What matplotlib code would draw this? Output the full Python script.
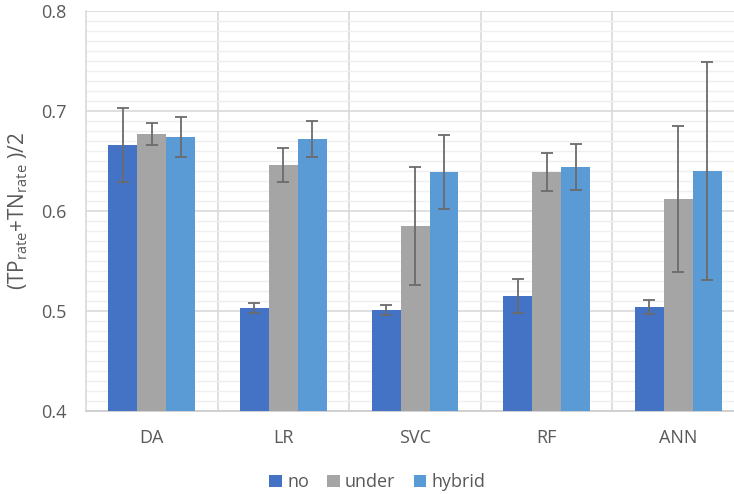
import numpy as np
import matplotlib.pyplot as plt
from matplotlib.ticker import MultipleLocator

models = ['DA', 'LR', 'SVC', 'RF', 'ANN']
sampling = ['no', 'under', 'hybrid']

# mean balanced accuracy per model and sampling strategy
acc_no = [0.666, 0.503, 0.501, 0.515, 0.504]
acc_under = [0.677, 0.646, 0.585, 0.639, 0.612]
acc_hybrid = [0.674, 0.672, 0.639, 0.644, 0.640]

# standard deviations
sd_no = [0.037, 0.005, 0.005, 0.017, 0.007]
sd_under = [0.011, 0.017, 0.059, 0.019, 0.073]
sd_hybrid = [0.020, 0.018, 0.037, 0.023, 0.109]

colors = ['#4472C4', '#A5A5A5', '#5B9BD5']
txt = '#595959'

plt.rcParams['font.family'] = ['Open Sans', 'DejaVu Sans']
plt.rcParams['mathtext.fontset'] = 'custom'
plt.rcParams['mathtext.rm'] = 'Open Sans'

fig = plt.figure(figsize=(7.34, 4.94), dpi=100)
ax = fig.add_axes([0.1172, 0.168, 0.8965, 0.8097])

x = np.arange(len(models))
w = 0.22
for i, (vals, sds) in enumerate(zip([acc_no, acc_under, acc_hybrid],
                                    [sd_no, sd_under, sd_hybrid])):
    pos = x + (i - 1) * w
    ax.bar(pos, vals, w, color=colors[i], label=sampling[i], zorder=3)
    ax.errorbar(pos, vals, yerr=sds, fmt='none', ecolor='#6b6b6b',
                elinewidth=1.3, capsize=4, capthick=1.3, zorder=4)

ax.set_xlim(-0.5, len(models) - 0.5)
ax.set_ylim(0.4, 0.8)
ax.yaxis.set_minor_locator(MultipleLocator(0.01))
ax.set_yticks([0.4, 0.5, 0.6, 0.7, 0.8])
ax.set_yticklabels(['0.4', '0.5', '0.6', '0.7', '0.8'])
ax.set_xticks(x)
ax.set_xticklabels(models)

ax.grid(axis='y', which='major', color='#D9D9D9', lw=1.2, zorder=1)
ax.grid(axis='y', which='minor', color='#EFEFEF', lw=1.0, zorder=0)
for b in np.arange(0.5, len(models) - 0.5, 1.0):
    ax.axvline(b, color='#D9D9D9', lw=1.2, zorder=1)

for s in ['top', 'right']:
    ax.spines[s].set_visible(False)
ax.spines['left'].set_color('#D9D9D9')
ax.spines['left'].set_linewidth(1.2)
ax.spines['bottom'].set_color('#D0D0D0')
ax.spines['bottom'].set_linewidth(1.4)

ax.tick_params(axis='both', which='both', length=0, labelsize=13, colors=txt)
ax.tick_params(axis='y', pad=14)
ax.tick_params(axis='x', pad=13)

ax.set_ylabel(r'(TP$_{\mathregular{rate}}$+TN$_{\mathregular{rate}}$ )/2',
              fontsize=15, color=txt, labelpad=8)

fig.legend(loc='center', bbox_to_anchor=(0.514, 0.024), ncol=3, frameon=False,
           fontsize=13, handlelength=0.7, handleheight=0.7, handletextpad=0.3,
           columnspacing=1.0, labelcolor=txt, borderpad=0.1)

plt.savefig('out.png', dpi=100)
